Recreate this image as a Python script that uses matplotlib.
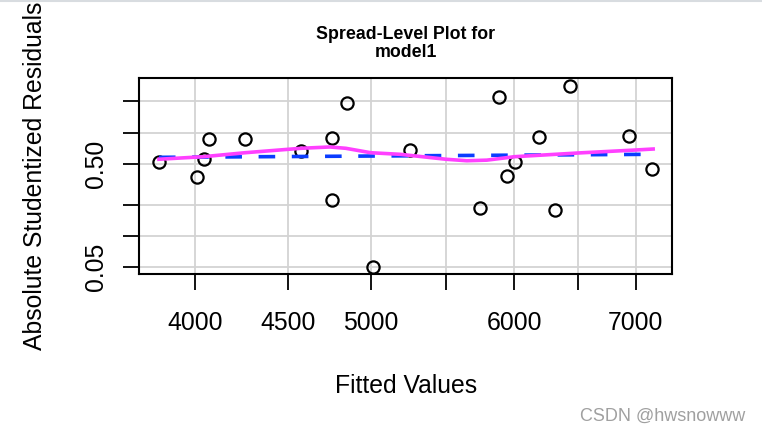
import numpy as np
import matplotlib
matplotlib.use("Agg")
import matplotlib.pyplot as plt

# data (log-log axes)
fitted = [3821, 4012, 4044, 4073, 4262, 4575, 4760, 4760, 4852, 5014,
          5252, 5744, 5885, 5942, 6002, 6192, 6316, 6442, 6938, 7147]
abs_resid = [0.523, 0.370, 0.559, 0.872, 0.872, 0.663, 0.885, 0.222, 1.914, 0.0503,
             0.678, 0.187, 2.19, 0.378, 0.523, 0.911, 0.177, 2.81, 0.919, 0.447]

# robust fit line (blue dashed), endpoints
fit_x = [3821, 7147]
fit_y = [0.576, 0.616]

# smoother (magenta)
smooth_x = [3821, 4042, 4262, 4575, 4747, 4844, 5000, 5189, 5500, 5648, 5793, 6000, 6500, 7000, 7155]
smooth_y = [0.552, 0.584, 0.638, 0.704, 0.725, 0.704, 0.638, 0.616, 0.552, 0.534, 0.541, 0.584, 0.634, 0.678, 0.693]

x_ticks = [4000, 4500, 5000, 5500, 6000, 6500, 7000]
x_labels = ["4000", "4500", "5000", "", "6000", "", "7000"]
y_ticks = [0.05, 0.1, 0.2, 0.5, 1.0, 2.0]
y_labels = ["0.05", "", "", "0.50", "", ""]

plt.rcParams['font.family'] = ['Liberation Sans', 'DejaVu Sans']

W, H = 762, 432
fig = plt.figure(figsize=(W / 100, H / 100), dpi=100)
ax = fig.add_axes([139.3 / W, 1 - 273.7 / H, 533.0 / W, 195.4 / H])

ax.set_xscale('log')
ax.set_yscale('log')
ax.set_xlim(3727, 7331)
ax.set_ylim(0.04338, 3.336)

ax.set_xticks(x_ticks)
ax.set_xticklabels(x_labels)
ax.set_xticks([], minor=True)
ax.set_yticks(y_ticks)
ax.set_yticklabels(y_labels, rotation=90, va='center')
ax.set_yticks([], minor=True)

ax.grid(True, color='#d3d3d3', lw=1.3)
ax.set_axisbelow(True)

ax.tick_params(axis='both', direction='out', length=11.5, width=1.3, labelsize=17.8)
ax.tick_params(axis='x', pad=15.6)
ax.tick_params(axis='y', pad=10.7)
for s in ax.spines.values():
    s.set_linewidth(1.5)

ax.plot(fitted, abs_resid, 'o', mfc='none', mec='black', ms=8.8, mew=1.6, zorder=3)
ax.plot(fit_x, fit_y, color='#0a3cff', lw=2.6, dashes=(4.6, 4.6), zorder=4)
ax.plot(smooth_x, smooth_y, color='#ff40ff', lw=2.6, zorder=5)

cx = (139.3 + 672.3) / 2
fig.text(cx / W, 1 - 39 / H, "Spread-Level Plot for", ha='center', va='baseline',
         fontsize=12.8, fontweight='bold')
fig.text(cx / W, 1 - 56.7 / H, "model1", ha='center', va='baseline',
         fontsize=12.8, fontweight='bold')

fig.text(cx / W, 1 - 393.3 / H, "Fitted Values", ha='center', va='baseline', fontsize=17.8)
fig.text(41.7 / W, 1 - 176 / H, "Absolute Studentized Residuals", rotation=90,
         rotation_mode='anchor', ha='center', va='baseline', fontsize=17.8)

fig.text(745 / W, 1 - 421 / H, "CSDN @hwsnowww", ha='right', va='baseline',
         fontsize=13, color='#a0a0a0')

# thin grey strip along the top edge
fig.add_artist(plt.Line2D([0, 1], [1 - 1 / H, 1 - 1 / H], transform=fig.transFigure,
                          color='#d8dce0', lw=1.5))

fig.savefig("out.png", dpi=100)
